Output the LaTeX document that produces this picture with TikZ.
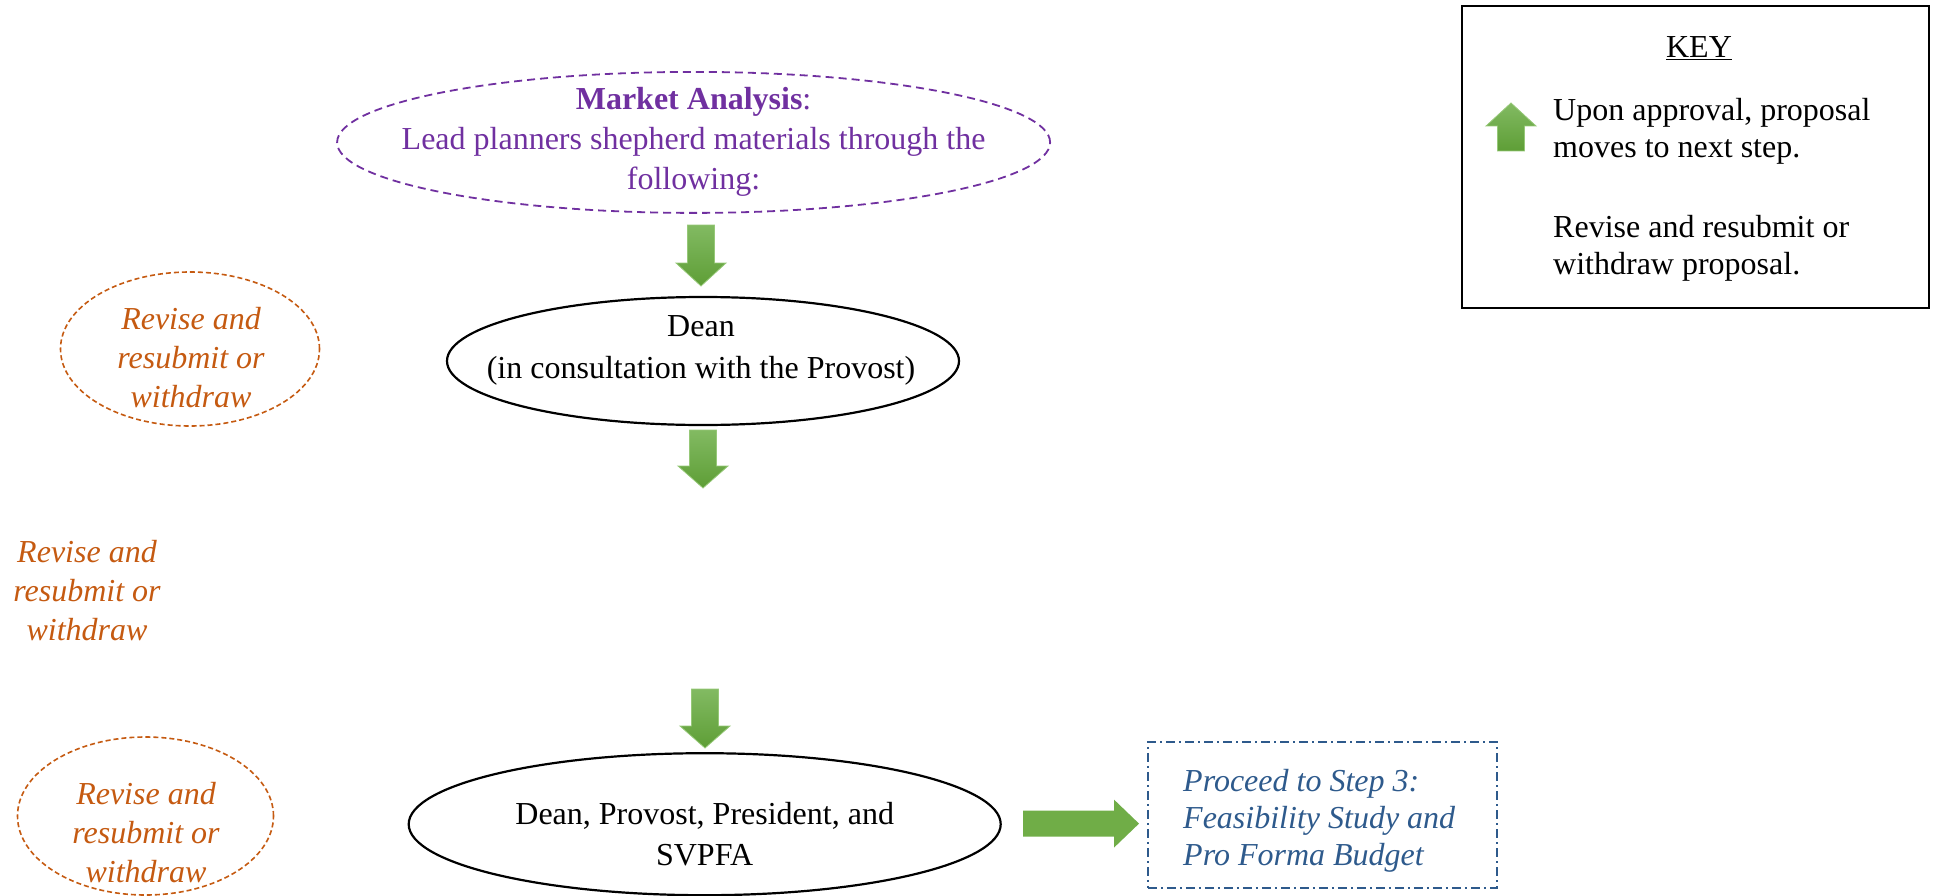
\documentclass[tikz,border=0pt]{standalone}
\usepackage{fontspec}
\setmainfont{Liberation Serif}
\usetikzlibrary{shapes.geometric}
\definecolor{mpurple}{RGB}{112,48,160}
\definecolor{morange}{RGB}{197,90,17}
\definecolor{mblue}{RGB}{46,90,140}
\definecolor{gtop}{RGB}{130,186,98}
\definecolor{gbot}{RGB}{94,158,54}
\definecolor{gline}{RGB}{150,200,120}
\definecolor{gsolid}{RGB}{112,173,71}
\tikzset{
  txt/.style={font=\fontsize{32}{39}\selectfont, align=center, inner sep=0pt},
  ell/.style={ellipse, draw, inner sep=0pt},
  blackell/.style={ell, line width=2.2pt},
  mktell/.style={ell, draw=mpurple, line width=1.8pt, dash pattern=on 8pt off 5pt},
  revell/.style={ell, draw=morange, line width=1.6pt, dash pattern=on 5pt off 3pt},
  revtxt/.style={txt, text=morange, font=\fontsize{32}{39}\selectfont\itshape},
  garrow/.style={top color=gtop, bottom color=gbot, draw=gline, line width=0.8pt},
}
\begin{document}
\begin{tikzpicture}[x=1pt,y=-1pt]
\useasboundingbox (0,0) rectangle (1942,896);
% Market analysis
\node[mktell, minimum width=713, minimum height=141] (market) at (693.6,142.4) {};
\node[txt, text=mpurple, font=\fontsize{32}{40}\selectfont] (markettxt) at (693.6,142) {\textbf{Market Analysis}:\\Lead planners shepherd materials through the\\following:};
% Dean
\node[blackell, minimum width=512, minimum height=128] (dean) at (703,361) {};
\node[txt, font=\fontsize{32}{42}\selectfont] (deantxt) at (701,350) {Dean\\(in consultation with the Provost)};
% Bottom
\node[blackell, minimum width=592, minimum height=142] (group) at (704.7,824.2) {};
\node[txt, font=\fontsize{32}{41}\selectfont] (grouptxt) at (704.7,834) {Dean, Provost, President, and\\SVPFA};
% Proceed box
\node[draw=mblue, line width=1.8pt, dash pattern=on 9pt off 4pt on 2pt off 4pt, minimum width=349, minimum height=146, anchor=north west, inner sep=0pt] (proceed) at (1147,741) {};
\node[txt, align=left, anchor=west, text=mblue, font=\fontsize{32}{37}\selectfont\itshape] (proceedtxt) at (1183,821) {Proceed to Step 3:\\Feasibility Study and\\Pro Forma Budget};
% Revise ellipses
\node[revell, minimum width=259, minimum height=154] (rev1) at (190,349) {};
\node[revtxt] (rev1txt) at (191,358) {Revise and\\resubmit or\\withdraw};
\node[revtxt] (rev2txt) at (87,591) {Revise and\\resubmit or\\withdraw};
\node[revell, minimum width=256, minimum height=158] (rev3) at (145.5,816) {};
\node[revtxt] (rev3txt) at (146,833) {Revise and\\resubmit or\\withdraw};
% green down arrows
\begin{scope}[shift={(701,225)}]
\path[garrow] (-13.5,0) -- (13.5,0) -- (13.5,38) -- (25,38) -- (0,61) -- (-25,38) -- (-13.5,38) -- cycle;
\end{scope}
\begin{scope}[shift={(703,430)}]
\path[garrow] (-13.5,0) -- (13.5,0) -- (13.5,36) -- (25,36) -- (0,58) -- (-25,36) -- (-13.5,36) -- cycle;
\end{scope}
\begin{scope}[shift={(705,689)}]
\path[garrow] (-13.5,0) -- (13.5,0) -- (13.5,37) -- (25,37) -- (0,59) -- (-25,37) -- (-13.5,37) -- cycle;
\end{scope}
% right arrow
\begin{scope}[shift={(1023,823.6)}]
\fill[gsolid] (0,-13) -- (91,-13) -- (91,-24) -- (116,0) -- (91,24) -- (91,13) -- (0,13) -- cycle;
\end{scope}
% KEY
\node[draw, line width=1.6pt, minimum width=467, minimum height=302, anchor=north west, inner sep=0pt] (key) at (1461,5) {};
\node[txt] (keytitle) at (1699,48.5) {\underline{KEY}};
\begin{scope}[shift={(1511,103)}]
\path[garrow] (-13.5,48) -- (13.5,48) -- (13.5,23) -- (25,23) -- (0,0) -- (-25,23) -- (-13.5,23) -- cycle;
\end{scope}
\node[txt, align=left, anchor=west, font=\fontsize{32}{37}\selectfont] (key1) at (1553,131) {Upon approval, proposal\\moves to next step.};
\node[txt, align=left, anchor=west, font=\fontsize{32}{37}\selectfont] (key2) at (1553,248.5) {Revise and resubmit or\\withdraw proposal.};
\end{tikzpicture}
\end{document}
